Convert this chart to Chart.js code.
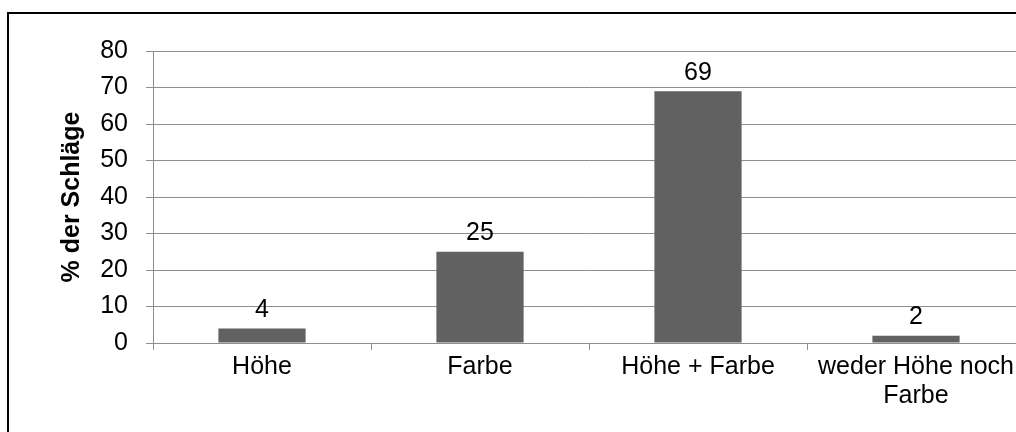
<!DOCTYPE html>
<html>
<head>
<meta charset="utf-8">
<script src="https://cdn.jsdelivr.net/npm/chart.js@4/dist/chart.umd.min.js"></script>
<style>
  html, body { margin: 0; padding: 0; background: #fff; }
  body { width: 1016px; height: 432px; overflow: hidden; position: relative; }
  #frame { position: absolute; left: 7px; top: 12px; width: 1100px; height: 600px; border: 2px solid #000; }
  #chart { position: absolute; left: 0; top: 0; }
</style>
</head>
<body>
<div id="frame"></div>
<canvas id="chart" width="1040" height="432"></canvas>
<script>
// data
const categories = ["Höhe", "Farbe", "Höhe + Farbe", ["weder Höhe noch", "Farbe"]]
const values = [4, 25, 69, 2]
const yTicks = [0, 10, 20, 30, 40, 50, 60, 70, 80]
const yTitle = "% der Schläge"

const gridGray = "#8e8e8e"
const font = "'Liberation Sans', Arial, sans-serif"

// draw the numbers above each bar
const valueLabels = {
  id: "valueLabels",
  afterDatasetsDraw(chart) {
    let ctx = chart.ctx
    let meta = chart.getDatasetMeta(0)
    ctx.save()
    ctx.fillStyle = "#000"
    ctx.font = "25px " + font
    ctx.textAlign = "center"
    ctx.textBaseline = "bottom"
    meta.data.forEach((bar, i) => {
      ctx.fillText(String(values[i]), bar.x, bar.y - 6)
    })
    ctx.restore()
  }
}

new Chart(document.getElementById("chart").getContext("2d"), {
  type: "bar",
  data: {
    labels: categories,
    datasets: [{
      data: values,
      backgroundColor: "#616161",
      borderWidth: 0,
      categoryPercentage: 0.8,
      barPercentage: 0.5
    }]
  },
  options: {
    responsive: false,
    animation: false,
    layout: { padding: { left: 0, top: 51, right: 15, bottom: 0 } },
    plugins: { legend: { display: false }, tooltip: { enabled: false } },
    scales: {
      x: {
        offset: true,
        grid: { offset: true, drawOnChartArea: false, color: gridGray, tickLength: 7 },
        border: { color: gridGray },
        ticks: {
          color: "#000",
          padding: 3,
          maxRotation: 0,
          autoSkip: false,
          font: { family: font, size: 25, lineHeight: 1.16 }
        },
        afterFit: s => { s.height = 89 }
      },
      y: {
        min: 0,
        max: 80,
        afterBuildTicks: s => { s.ticks = yTicks.map(v => ({ value: v })) },
        grid: { color: gridGray, tickLength: 7 },
        border: { color: gridGray },
        ticks: {
          color: "#000",
          padding: 18,
          font: { family: font, size: 25 }
        },
        title: {
          display: true,
          text: yTitle,
          color: "#000",
          font: { family: font, size: 25, weight: "bold", lineHeight: 1.2 },
          padding: { top: 57, bottom: 0 }
        },
        afterFit: s => { s.width = 153 }
      }
    }
  },
  plugins: [valueLabels]
})
</script>
</body>
</html>
